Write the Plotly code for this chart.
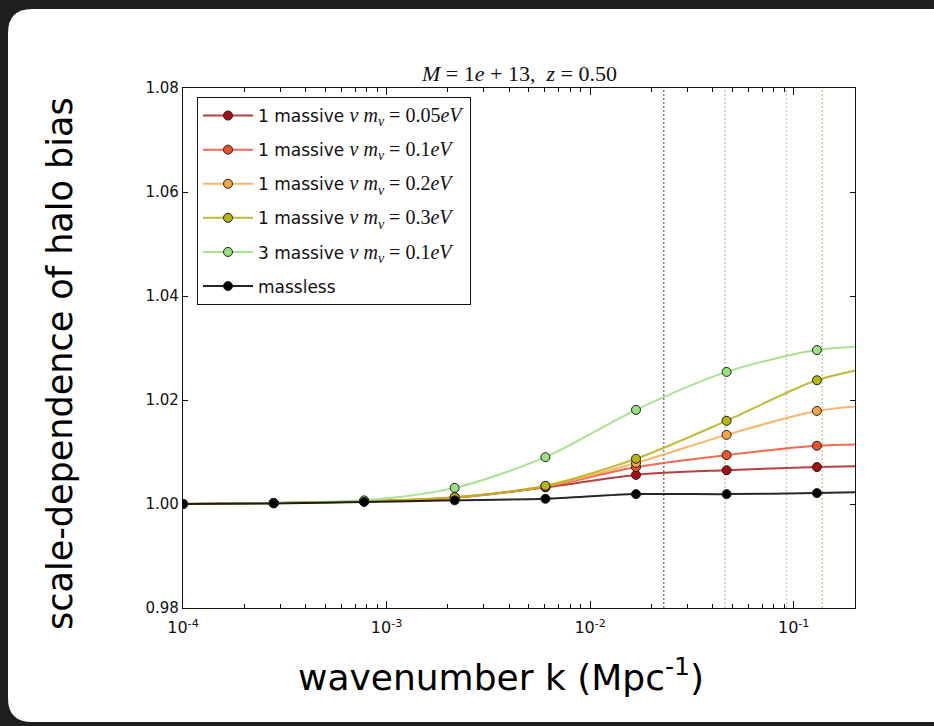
import numpy as np
import plotly.graph_objects as go

# Wavenumbers where the halo bias ratio is sampled (Mpc^-1); the last one lies past the axis edge
k = [1.0e-4, 2.79e-4, 7.76e-4, 2.16e-3, 6.03e-3, 1.68e-2, 4.68e-2, 1.30e-1, 3.63e-1]

# Scale-dependent bias ratio b(k)/b(k->0) for each neutrino model
bias_005_1 = [1.0000, 1.0002, 1.0005, 1.0012, 1.0032, 1.0056, 1.0065, 1.0071, 1.0075]
bias_010_1 = [1.0000, 1.0002, 1.0005, 1.0012, 1.0033, 1.0071, 1.0094, 1.0112, 1.0116]
bias_020_1 = [1.0000, 1.0002, 1.0005, 1.0013, 1.0034, 1.0079, 1.0133, 1.0179, 1.0195]
bias_030_1 = [1.0000, 1.0002, 1.0005, 1.0013, 1.0035, 1.0087, 1.0160, 1.0238, 1.0276]
bias_010_3 = [1.0000, 1.0002, 1.0007, 1.0031, 1.0090, 1.0181, 1.0254, 1.0296, 1.0306]
bias_massless = [1.0000, 1.0001, 1.0004, 1.0007, 1.0010, 1.0019, 1.0019, 1.0021, 1.0025]

MATH = "<span style='font-family:Liberation Serif;font-size:20px'>"
series_names = [
    f"1 massive {MATH}<i>ν m</i><sub><i>ν</i></sub> = 0.05<i>eV</i></span>",
    f"1 massive {MATH}<i>ν m</i><sub><i>ν</i></sub> = 0.1<i>eV</i></span>",
    f"1 massive {MATH}<i>ν m</i><sub><i>ν</i></sub> = 0.2<i>eV</i></span>",
    f"1 massive {MATH}<i>ν m</i><sub><i>ν</i></sub> = 0.3<i>eV</i></span>",
    f"3 massive {MATH}<i>ν m</i><sub><i>ν</i></sub> = 0.1<i>eV</i></span>",
    "massless",
]
series_values = [bias_005_1, bias_010_1, bias_020_1, bias_030_1, bias_010_3, bias_massless]

# Free-streaming wavenumbers of the single massive neutrino models
k_fs = [0.023, 0.046, 0.092, 0.138]

marker_colors = ["#a50f15", "#f0502a", "#f8a448", "#b8b414", "#9ae07e", "#000000"]
line_colors = ["rgba(170,30,30,0.85)", "rgba(240,80,50,0.85)", "rgba(248,168,80,0.85)",
               "rgba(180,176,20,0.85)", "rgba(150,222,120,0.85)", "rgba(0,0,0,0.85)"]
fs_colors = ["#6e6870", "#c4c08a", "#e4c0a0", "#c0cc80"]

fig = go.Figure()

# dotted free-streaming markers
for kf, c in zip(k_fs, fs_colors):
    fig.add_trace(go.Scatter(
        x=[kf, kf], y=[0.98, 1.08], mode="lines",
        line=dict(color=c, width=1.3, dash="2px,2px"),
        showlegend=False, hoverinfo="skip"))

for i, (name, vals) in enumerate(zip(series_names, series_values)):
    fig.add_trace(go.Scatter(
        x=k, y=vals, name=name, mode="lines+markers",
        legendgroup=f"g{i}",
        line=dict(color=line_colors[i], width=2, shape="spline", smoothing=0.8),
        marker=dict(size=9, color=marker_colors[i], line=dict(color="#202020", width=1)),
    ))

# plot area in pixels, used to place the slide background and the titles
L, R, T, B = 183, 855, 88, 608
W, H = 934, 726


def px_x(p):
    return (p - L) / (R - L)


def px_y(p):
    return (B - p) / (B - T)


r = 24
x0, y0, x1, y1 = 8, 9, 960, 722
slide_path = (
    f"M {px_x(x0)},{px_y(y0 + r)} Q {px_x(x0)},{px_y(y0)} {px_x(x0 + r)},{px_y(y0)} "
    f"L {px_x(x1)},{px_y(y0)} L {px_x(x1)},{px_y(y1)} L {px_x(x0 + r)},{px_y(y1)} "
    f"Q {px_x(x0)},{px_y(y1)} {px_x(x0)},{px_y(y1 - r)} Z"
)

minor_vals = [m * 10.0 ** e for e in range(-4, 0) for m in range(2, 10) if m * 10.0 ** e <= 0.2]

fig.update_layout(
    width=W, height=H,
    margin=dict(l=L, r=W - R, t=T, b=H - B),
    paper_bgcolor="#1e1e1e",
    plot_bgcolor="white",
    font=dict(family="DejaVu Sans", color="#111"),
    shapes=[dict(type="path", xref="paper", yref="paper", path=slide_path,
                 fillcolor="white", line=dict(width=0), layer="below")],
    showlegend=True,
    legend=dict(
        x=px_x(197), y=px_y(97), xanchor="left", yanchor="top",
        bgcolor="white", bordercolor="#111", borderwidth=1,
        font=dict(family="DejaVu Sans", size=17, color="#111"),
        itemwidth=50, tracegroupgap=9,
    ),
    annotations=[
        dict(text="<i>M</i> = 1<i>e</i> + 13,  <i>z</i> = 0.50", xref="paper", yref="paper",
             x=0.5, y=px_y(73), xanchor="center", yanchor="middle", showarrow=False,
             font=dict(family="Liberation Serif", size=22, color="#111")),
        dict(text="scale-dependence of halo bias", xref="paper", yref="paper",
             x=px_x(60), y=px_y(364), textangle=-90, xanchor="center", yanchor="middle",
             showarrow=False,
             font=dict(family="DejaVu Sans", size=35, color="#000")),
        dict(text="wavenumber k (Mpc<sup>-1</sup>)", xref="paper", yref="paper",
             x=px_x(501), y=px_y(675), xanchor="center", yanchor="middle",
             showarrow=False,
             font=dict(family="DejaVu Sans", size=36, color="#000")),
    ],
)

fig.update_xaxes(
    type="log", range=[-4, np.log10(0.2)],
    tickmode="array",
    tickvals=[1e-4, 1e-3, 1e-2, 1e-1],
    ticktext=["10<sup>-4</sup>", "10<sup>-3</sup>", "10<sup>-2</sup>", "10<sup>-1</sup>"],
    ticks="inside", ticklen=7, tickcolor="#111", tickwidth=1,
    minor=dict(tickmode="array", tickvals=minor_vals, ticks="inside", ticklen=4,
               tickcolor="#111", showgrid=False),
    showline=True, linecolor="#111", linewidth=1.3, mirror="allticks",
    showgrid=False, zeroline=False, ticklabelstandoff=5,
    tickfont=dict(family="DejaVu Sans", size=16, color="#111"),
)
fig.update_yaxes(
    range=[0.98, 1.08], tick0=0.98, dtick=0.02, tickformat=".2f",
    ticks="inside", ticklen=5, tickcolor="#111",
    showline=True, linecolor="#111", linewidth=1.3, mirror="allticks",
    showgrid=False, zeroline=False,
    tickfont=dict(family="DejaVu Sans", size=15, color="#111"),
)

fig.write_html("out.html")
